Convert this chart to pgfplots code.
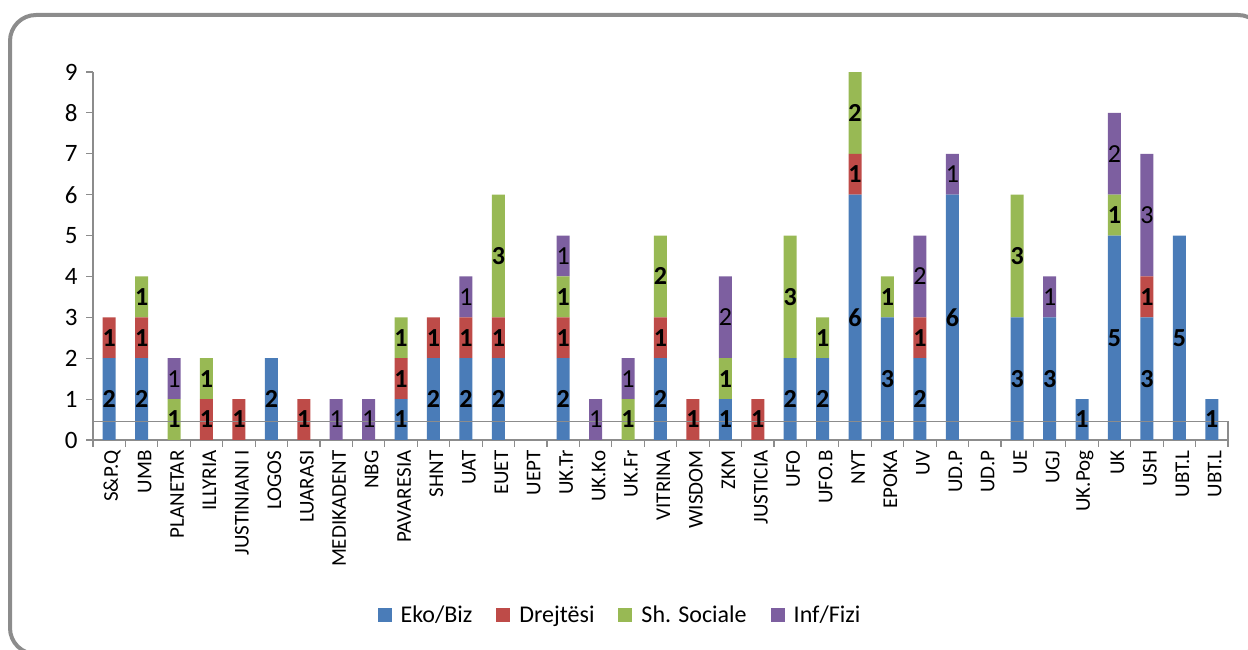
\documentclass[border=0pt]{standalone}
\usepackage{pgfplots}
\pgfplotsset{compat=1.18}
\usepackage{pgfplotstable}
\usepackage{fontspec}
\setmainfont{Carlito}
\definecolor{eko}{HTML}{4A7CB8}
\definecolor{dre}{HTML}{BE4B48}
\definecolor{soc}{HTML}{98B954}
\definecolor{inf}{HTML}{7D5FA0}
\definecolor{axgray}{HTML}{8C8C8C}
\pgfplotstableread{
x eko dre soc inf
0 2 1 0 0
1 2 1 1 0
2 0 0 1 1
3 0 1 1 0
4 0 1 0 0
5 2 0 0 0
6 0 1 0 0
7 0 0 0 1
8 0 0 0 1
9 1 1 1 0
10 2 1 0 0
11 2 1 0 1
12 2 1 3 0
13 0 0 0 0
14 2 1 1 1
15 0 0 0 1
16 0 0 1 1
17 2 1 2 0
18 0 1 0 0
19 1 0 1 2
20 0 1 0 0
21 2 0 3 0
22 2 0 1 0
23 6 1 2 0
24 3 0 1 0
25 2 1 0 2
26 6 0 0 1
27 0 0 0 0
28 3 0 3 0
29 3 0 0 1
30 1 0 0 0
31 5 0 1 2
32 3 1 0 3
33 5 0 0 0
34 1 0 0 0
}\data
\pgfplotsset{
  seg/.style 2 args={
    draw=none, fill=#1,
    point meta=\thisrow{#2},
    legend image code/.code={\fill[#1] (0pt,-7pt) rectangle (14pt,7pt); \path (21pt,0pt);},
  },
}
\begin{document}
\begin{tikzpicture}
\draw[line width=4pt, axgray, rounded corners=26pt] (10pt,635pt) rectangle (1264pt,-4pt);
\begin{axis}[
  at={(93pt,210pt)}, anchor=south west,
  width=1135pt, height=368pt, scale only axis,
  ybar stacked, bar width=13pt,
  xmin=-0.5, xmax=34.5, ymin=0, ymax=9,
  enlargelimits=false, clip=false,
  axis x line*=bottom, axis y line*=left,
  axis line style={axgray, line width=1.3pt},
  xtick={0,...,34},
  xticklabels={S\&P.Q,UMB,PLANETAR,ILLYRIA,JUSTINIANI I,LOGOS,LUARASI,MEDIKADENT,NBG,PAVARESIA,SHNT,UAT,EUET,UEPT,UK.Tr,UK.Ko,UK.Fr,VITRINA,WISDOM,ZKM,JUSTICIA,UFO,UFO.B,NYT,EPOKA,UV,UD.P,UD.P,UE,UGJ,UK.Pog,UK,USH,UBT.L,UBT.L},
  x tick label style={rotate=90, anchor=east, font=\fontsize{21}{21}\selectfont, yshift=-3pt},
  minor xtick={-0.5,0.5,...,34.5},
  ytick={0,...,9},
  yticklabel style={font=\fontsize{25}{25}\selectfont, xshift=-5pt},
  /pgf/number format/assume math mode=true,
  tick align=outside,
  major tick length=7pt, minor tick length=7pt,
  major x tick style={draw=none},
  minor x tick style={axgray, line width=1.2pt},
  ytick style={axgray, line width=1.2pt},
  nodes near coords={\pgfmathfloatifflags{\pgfplotspointmeta}{0}{}{\pgfmathprintnumber{\pgfplotspointmeta}}},
  every node near coord/.append style={anchor=center, text=black, font=\bfseries\fontsize{26}{26}\selectfont},
  legend style={at={(0.4643,-0.4755)}, anchor=center, draw=none, fill=none,
    legend columns=4, font=\fontsize{24}{24}\selectfont,
    /tikz/every even column/.append style={column sep=22pt}},
  legend cell align=left,
]
\draw[axgray, line width=1.3pt] (axis cs:-0.5,0.46) -- (axis cs:34.5,0.46) -- (axis cs:34.5,0);
\addplot[seg={eko}{eko}] table[x=x, y=eko] {\data};
\addplot[seg={dre}{dre}] table[x=x, y=dre] {\data};
\addplot[seg={soc}{soc}] table[x=x, y=soc] {\data};
\addplot[seg={inf}{inf}, every node near coord/.append style={font=\fontsize{26}{26}\selectfont}] table[x=x, y=inf] {\data};
\legend{Eko/Biz, Drejtësi, Sh. Sociale, Inf/Fizi}
\end{axis}
\pgfresetboundingbox
\path[use as bounding box] (0pt,0pt) rectangle (1248pt,650pt);
\end{tikzpicture}
\end{document}
